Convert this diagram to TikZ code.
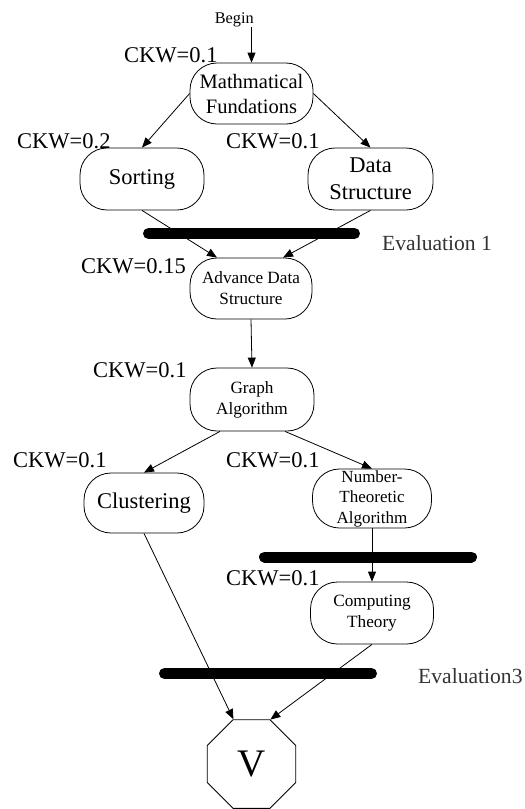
\documentclass[tikz,border=0pt]{standalone}
\usepackage{fontspec}
\setmainfont{Liberation Serif}
\usetikzlibrary{arrows.meta,shapes.geometric}

\tikzset{
  x=1pt, y=-1pt,
  course/.style={draw, line width=0.8pt, rectangle, rounded corners=27pt,
    align=center, inner sep=0pt, minimum width=123pt, minimum height=61pt},
  big/.style={font=\fontsize{22.5}{27}\selectfont},
  mid/.style={font=\fontsize{20.5}{25}\selectfont},
  small/.style={font=\fontsize{17.2}{21}\selectfont},
  ckw/.style={anchor=base west, inner sep=0pt, font=\fontsize{22.5}{27}\selectfont},
  evallabel/.style={anchor=base west, inner sep=0pt, text=black!80,
    font=\fontsize{21.6}{26}\selectfont},
  arr/.style={line width=0.8pt, -{Triangle[length=10pt,width=8pt]}},
  bar/.style={line width=11pt, line cap=round}
}

\begin{document}
\begin{tikzpicture}
\useasboundingbox (0,0) rectangle (525,809);

% start marker
\node[anchor=base east, inner sep=0pt, font=\fontsize{16.3}{19}\selectfont] (begin) at (254,23) {Begin};

% course nodes
\node[course, mid] (math) at (251.5,93.5) {Mathmatical\\Fundations};
\node[course, big, minimum width=124pt, minimum height=62pt] (sort) at (142,179) {Sorting};
\node[course, big, minimum width=125pt, minimum height=62pt] (data) at (370.5,179) {Data\\Structure};
\node[course, small, minimum width=122pt] (adv) at (251,288.5) {Advance Data\\Structure};
\node[course, small, minimum width=124pt, minimum height=63pt] (graph) at (252,399.5) {Graph\\Algorithm};
\node[course, big, minimum width=120pt, minimum height=60pt] (clus) at (144,503) {Clustering};
\node[course, font=\fontsize{17}{20.5}\selectfont, minimum width=119pt, minimum height=59pt] (num) at (372,498.5) {Number-\\Theoretic\\Algorithm};
\node[course, small, minimum width=123pt, minimum height=62pt] (comp) at (372,613) {Computing\\Theory};
\node[draw, line width=0.8pt, regular polygon, regular polygon sides=8,
  minimum size=96pt, inner sep=0pt, font=\fontsize{39}{44}\selectfont] (V) at (251.5,764) {V};

% weight labels
\node[ckw] (w1) at (124,62) {CKW=0.1};
\node[ckw] (w2) at (17,148) {CKW=0.2};
\node[ckw] (w3) at (226,148) {CKW=0.1};
\node[ckw] (w4) at (81,273) {CKW=0.15};
\node[ckw] (w5) at (93,377) {CKW=0.1};
\node[ckw] (w6) at (13,467) {CKW=0.1};
\node[ckw] (w7) at (226,467) {CKW=0.1};
\node[ckw] (w8) at (226,585) {CKW=0.1};

% evaluation labels
\node[evallabel] (e1) at (382,250) {Evaluation 1};
\node[evallabel] (e3) at (418,683) {Evaluation3};

% connectors
\draw[arr] (begin.south -| math.north) -- (math.north);
\draw[arr] (math.west) -- (sort.north);
\draw[arr] (math.east) -- (data.north);
\draw[arr] (sort.south) -- ([xshift=-34pt]adv.north);
\draw[arr] (data.south) -- ([xshift=32pt]adv.north);
\draw[arr] (adv.south) -- (graph.north);
\draw[arr] ([xshift=-32pt]graph.south) -- (clus.north);
\draw[arr] ([xshift=33pt]graph.south) -- (num.north);
\draw[arr] (num.south) -- (comp.north);
\draw[arr] (clus.south) -- (V.112.5);
\draw[arr] (comp.south) -- (V.67.5);

% evaluation bars
\draw[bar] (148.5,233.5) -- (354.5,233.5);
\draw[bar] (264.5,557) -- (471.5,557);
\draw[bar] (164.5,673.5) -- (371.5,673.5);
\end{tikzpicture}
\end{document}
